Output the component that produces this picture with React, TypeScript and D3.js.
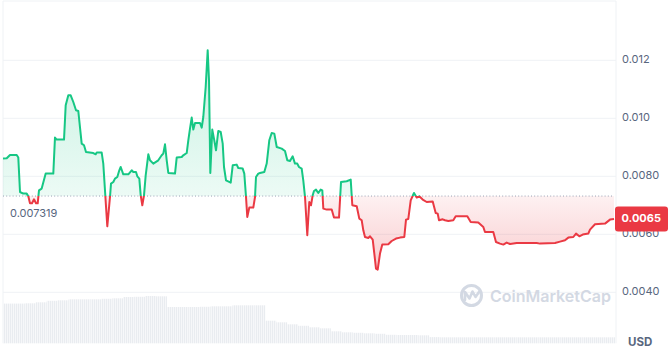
import React, { useEffect } from "react";
import * as d3 from "d3";

const W = 670;
const H = 349;

// Time in hours since start of the 7-day window
const hours = [
  0, 1.02, 1.92, 3.76, 4.2, 4.67, 5.57, 6.5, 6.95, 7.41, 7.96, 8.51, 9.06, 9.53, 9.88, 10.62, 11.72, 13.81,
  14.27, 14.74, 16.75, 17.21, 17.93, 18.58, 19.3, 20.04, 20.67, 21.6, 22.24, 22.78, 24.79, 25.45, 25.72,
  27.09, 27.53, 28.08, 28.63, 29.37, 29.65, 30.28, 30.74, 31.38, 31.93, 32.31, 33.02, 34.4, 35.33, 35.77,
  36.51, 36.87, 37.42, 37.8, 38.24, 38.71, 39.17, 39.89, 40.35, 41.26, 42.63, 43.56, 44.0, 44.47, 44.94,
  45.38, 47.22, 47.68, 49.06, 49.49, 50.43, 50.87, 51.33, 51.8, 52.24, 52.71, 54.08, 54.55, 54.98, 55.64,
  56.19, 56.55, 56.91, 57.45, 58.0, 58.47, 59.1, 59.76, 60.31, 60.67, 61.22, 62.51, 63.06, 64.15, 64.59,
  65.8, 66.24, 66.71, 67.06, 67.61, 68.71, 69.18, 69.45, 70.08, 70.55, 71.73, 72.39, 73.1, 73.76, 74.48,
  75.14, 76.51, 77.41, 78.04, 78.78, 79.52, 80.15, 80.78, 81.25, 81.99, 82.43, 82.9, 83.53, 84.08, 84.55,
  85.01, 85.37, 85.92, 86.55, 87.21, 87.65, 87.93, 88.86, 90.23, 90.86, 92.24, 92.79, 94.35, 95.45, 95.89,
  97.1, 97.81, 98.47, 98.91, 99.37, 100.28, 100.75, 101.49, 101.93, 102.39, 102.86, 103.49, 104.12, 105.77,
  106.7, 107.88, 108.98, 110.16, 110.63, 111.26, 111.92, 112.82, 113.56, 114.28, 115.21, 116.31, 117.96,
  118.78, 119.33, 119.69, 120.7, 121.33, 122.24, 123.61, 124.27, 127.46, 128.39, 130.47, 131.85, 132.31,
  134.59, 135.33, 136.43, 137.34, 138.27, 139.18, 141.02, 146.51, 147.42, 151.54, 152.91, 154.28, 155.19,
  156.56, 157.3, 158.21, 159.14, 160.67, 161.14, 162.51, 165.26, 166.63, 167.73,
];

// Price in USD
const prices = [
  0.00861, 0.008621, 0.008735, 0.008735, 0.008645, 0.007459, 0.007403, 0.007403, 0.00731, 0.007069,
  0.007069, 0.007207, 0.007069, 0.007069, 0.007517, 0.007576, 0.008093, 0.008093, 0.009334, 0.009265,
  0.009265, 0.010448, 0.010793, 0.010793, 0.010562, 0.010276, 0.010252, 0.009128, 0.009069, 0.008838,
  0.008803, 0.008759, 0.008817, 0.008817, 0.008438, 0.007345, 0.006276, 0.007286, 0.007748, 0.007803,
  0.007921, 0.007976, 0.008207, 0.008321, 0.008069, 0.008069, 0.008207, 0.008148, 0.008148, 0.008,
  0.007921, 0.007345, 0.007, 0.007345, 0.008034, 0.008759, 0.008552, 0.008438, 0.008552, 0.008724,
  0.008783, 0.009103, 0.008552, 0.008114, 0.008093, 0.008645, 0.008666, 0.008724, 0.008803, 0.009241,
  0.009645, 0.010024, 0.00961, 0.009838, 0.009838, 0.009679, 0.010045, 0.011079, 0.012345, 0.01131,
  0.008114, 0.00961, 0.009241, 0.008897, 0.009562, 0.009528, 0.009128, 0.008321, 0.007862, 0.007783,
  0.008379, 0.008403, 0.008286, 0.008266, 0.008093, 0.007286, 0.006597, 0.006921, 0.006921, 0.007286,
  0.007976, 0.008093, 0.008114, 0.008148, 0.008438, 0.009241, 0.009493, 0.009472, 0.00901, 0.008955,
  0.008872, 0.008552, 0.008528, 0.00869, 0.008438, 0.008438, 0.008321, 0.008266, 0.007862, 0.007293,
  0.005966, 0.007114, 0.007, 0.007345, 0.007493, 0.007541, 0.007424, 0.007541, 0.007517, 0.006886,
  0.006852, 0.006852, 0.006576, 0.006576, 0.007803, 0.007828, 0.007886, 0.007, 0.006966, 0.006541,
  0.006483, 0.006138, 0.005907, 0.005872, 0.005931, 0.005817, 0.005334, 0.004817, 0.004783, 0.005334,
  0.005645, 0.005655, 0.005769, 0.005852, 0.005886, 0.005907, 0.006507, 0.006528, 0.007172, 0.007424,
  0.007266, 0.00731, 0.007197, 0.007114, 0.007128, 0.006734, 0.006714, 0.006483, 0.006517, 0.006483,
  0.006459, 0.006483, 0.006621, 0.006621, 0.006424, 0.006403, 0.006252, 0.006079, 0.006079, 0.005734,
  0.005679, 0.005645, 0.005714, 0.005666, 0.0057, 0.0057, 0.005679, 0.0057, 0.005748, 0.005793, 0.005886,
  0.005907, 0.006024, 0.005931, 0.00599, 0.006024, 0.006162, 0.006345, 0.006369, 0.006507, 0.006528,
];

// Volume per 3-hour bin (relative units)
const volumes = [
  39.7, 39.7, 40, 41, 42.5, 43, 44, 44, 44, 44.5, 45, 46.3, 46.5, 47.3, 47, 36.3, 36.3, 36.3, 36.5, 37,
  37, 38, 38, 38, 22.6, 21, 19, 17.5, 16, 15, 12, 11, 10.5, 10, 9.5, 8.5, 8.3, 8.3, 8, 6.2, 6, 6, 6, 6,
  6, 6, 6, 6, 6, 6, 6, 6, 6, 6, 6, 6,
];

const openPrice = 0.007319;
const lastPriceLabel = "0.0065";
const yTicks = [0.012, 0.01, 0.008, 0.006, 0.004];
const yTickLabels = ["0.012", "0.010", "0.0080", "0.0060", "0.0040"];

const GREEN = "#16c784";
const RED = "#ea3943";
const TEXT = "#58667e";
const GRID = "#eff2f5";

const plotLeft = 3;
const plotRight = 616;
const plotTop = 1;
const plotBottom = 343.3;

export default function App() {
  useEffect(() => {
    document.body.style.margin = "0";
  }, []);

  const x = d3.scaleLinear().domain([0, 168]).range([plotLeft, 615]);
  const y = d3.scaleLinear().domain([0.004, 0.012]).range([292.3, 60.3]);
  const vy = d3.scaleLinear().domain([0, 50]).range([plotBottom, plotBottom - 50]);

  const pts = hours.map((h, i) => [h, prices[i]] as [number, number]);
  const baseY = y(openPrice);

  const line = d3
    .line<[number, number]>()
    .x((d) => x(d[0]))
    .y((d) => y(d[1]));
  const area = d3
    .area<[number, number]>()
    .x((d) => x(d[0]))
    .y0(baseY)
    .y1((d) => y(d[1]));

  const linePath = line(pts) || "";
  const areaPath = area(pts) || "";

  const lastY = y(prices[prices.length - 1]);
  const font = "Inter, 'Noto Sans', sans-serif";

  return (
    <svg
      width={W}
      height={H}
      viewBox={`0 0 ${W} ${H}`}
      style={{ position: "absolute", left: 0, top: 0, display: "block", background: "#fff" }}
    >
      <defs>
        <clipPath id="clipAbove">
          <rect x={0} y={0} width={W} height={baseY} />
        </clipPath>
        <clipPath id="clipBelow">
          <rect x={0} y={baseY} width={W} height={H - baseY} />
        </clipPath>
        <linearGradient id="gGreen" gradientUnits="userSpaceOnUse" x1={0} y1={y(0.0123)} x2={0} y2={baseY}>
          <stop offset="0" stopColor={GREEN} stopOpacity={0.24} />
          <stop offset="1" stopColor={GREEN} stopOpacity={0.08} />
        </linearGradient>
        <linearGradient id="gRed" gradientUnits="userSpaceOnUse" x1={0} y1={baseY} x2={0} y2={y(0.0048)}>
          <stop offset="0" stopColor={RED} stopOpacity={0.07} />
          <stop offset="1" stopColor={RED} stopOpacity={0.26} />
        </linearGradient>
        <pattern id="vstripe" width={2} height={4} patternUnits="userSpaceOnUse">
          <rect width={2} height={4} fill="#f6f7f9" />
          <rect width={1} height={4} fill="#e9ecf0" />
        </pattern>
      </defs>

      {/* frame */}
      <line x1={plotLeft} x2={plotRight} y1={plotTop} y2={plotTop} stroke={GRID} />
      <line x1={plotLeft} x2={plotLeft} y1={plotTop} y2={plotBottom} stroke={GRID} />
      <line x1={plotRight} x2={plotRight} y1={plotTop} y2={plotBottom} stroke={GRID} />

      {/* volume */}
      <g>
        {volumes.map((v, i) => {
          const x0 = x(i * 3);
          const x1 = Math.min(x((i + 1) * 3), plotRight - 1);
          return (
            <rect
              key={i}
              x={x0}
              y={vy(v)}
              width={Math.max(0, x1 - x0)}
              height={plotBottom - vy(v)}
              fill="url(#vstripe)"
            />
          );
        })}
      </g>

      {/* grid */}
      {yTicks.map((t, i) => (
        <line key={i} x1={plotLeft} x2={plotRight} y1={y(t)} y2={y(t)} stroke={GRID} strokeWidth={1} />
      ))}

      {/* watermark */}
      <g opacity={0.9}>
        <circle cx={471.5} cy={295.5} r={10} fill="none" stroke="#cfd5e1" strokeWidth={3} />
        <path
          d="M465 300 L465 292 L469.5 298.5 L472.5 291.5 L475.5 297 L479 292"
          fill="none"
          stroke="#cfd5e1"
          strokeWidth={2.6}
          strokeLinejoin="round"
          strokeLinecap="round"
        />
        <text x={490} y={301.5} fontFamily={font} fontSize={16} fontWeight={600} fill="#cfd5e1">
          CoinMarketCap
        </text>
      </g>

      {/* areas */}
      <path d={areaPath} fill="url(#gGreen)" clipPath="url(#clipAbove)" />
      <path d={areaPath} fill="url(#gRed)" clipPath="url(#clipBelow)" />

      {/* baseline */}
      <line
        x1={plotLeft}
        x2={plotRight - 2}
        y1={baseY}
        y2={baseY}
        stroke="#9aa3b5"
        strokeWidth={1}
        strokeDasharray="1 2.2"
      />

      {/* lines */}
      <path d={linePath} fill="none" stroke={GREEN} strokeWidth={2} strokeLinejoin="round" clipPath="url(#clipAbove)" />
      <path d={linePath} fill="none" stroke={RED} strokeWidth={2} strokeLinejoin="round" clipPath="url(#clipBelow)" />

      {/* open price label */}
      <text x={10} y={baseY + 18} dominantBaseline="middle" fontFamily={font} fontSize={11} fill={TEXT}>
        {openPrice.toString()}
      </text>

      {/* y axis labels */}
      {yTicks.map((t, i) => (
        <text
          key={i}
          x={622}
          y={y(t)}
          dominantBaseline="middle"
          fontFamily={font}
          fontSize={11}
          fill={TEXT}
        >
          {yTickLabels[i]}
        </text>
      ))}

      {/* current price tag */}
      <rect x={615} y={lastY - 12.5} width={53} height={25} rx={3} fill={RED} />
      <text
        x={621.5}
        y={lastY}
        dominantBaseline="middle"
        fontFamily={font}
        fontSize={11}
        fontWeight={700}
        fill="#fff"
      >
        {lastPriceLabel}
      </text>

      <text x={628} y={343} dominantBaseline="middle" fontFamily={font} fontSize={11.5} fontWeight={700} fill={TEXT}>
        USD
      </text>
    </svg>
  );
}
